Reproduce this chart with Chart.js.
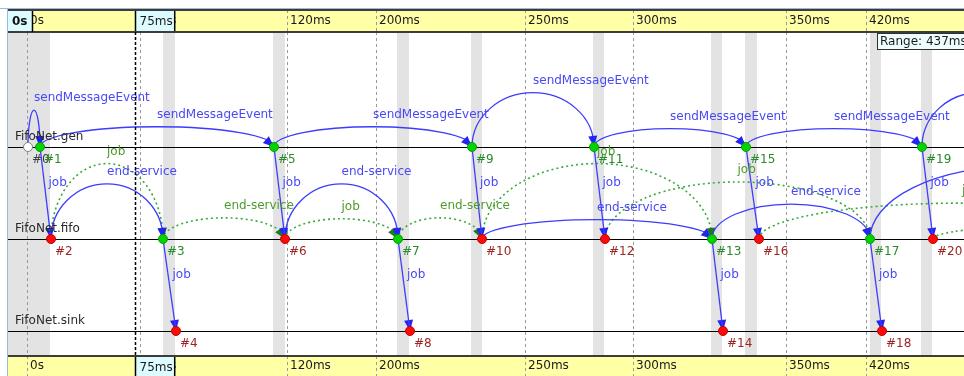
<!DOCTYPE html>
<html>
<head>
<meta charset="utf-8">
<script src="https://cdn.jsdelivr.net/npm/chart.js@4"></script>
<style>
  html, body { margin: 0; padding: 0; background: #fff; }
  canvas { display: block; }
</style>
</head>
<body>
<canvas id="seqChart" width="964" height="376"></canvas>
<script>
// FifoNet sequence chart, non-linear timeline (x = timeline position)

const laneNames = ["FifoNet.gen", "FifoNet.fifo", "FifoNet.sink"];
const laneValue = [2, 1, 0];

// events #0..#20 are on screen, the last two are past the right edge
const eventX    = [20, 32, 43, 155, 168, 266, 277, 390, 402, 464, 474, 586, 597, 704, 715, 738, 751, 862, 874, 914, 925, 1157, 1028];
const eventLane = [0, 0, 1, 1, 2, 0, 1, 1, 2, 0, 1, 0, 1, 1, 2, 0, 1, 1, 2, 0, 1, 1, 0];
const eventKind = ["w", "g", "r", "g", "r", "g", "r", "g", "r", "g", "r", "g", "r", "g", "r", "g", "r", "g", "r", "g", "r", "g", "g"];
const shownEvents = 21;

const tickPos    = [19, 132, 279, 368, 517, 625, 778, 858];
const tickLabels = ["0s", "75ms", "120ms", "200ms", "250ms", "300ms", "350ms", "420ms"];

// regions where consecutive events share the same simulation time
const sameTimeSpans = [[0, 42], [155, 167], [265, 277], [389, 401], [463, 474], [585, 596], [703, 714], [737, 749], [862, 873], [913, 924]];

// self messages: [from, to, name, rise of the arc in lane units]
const sendArcs = [
  [0, 1, "sendMessageEvent", 0.40],
  [1, 5, "sendMessageEvent", 0.22],
  [5, 9, "sendMessageEvent", 0.22],
  [9, 11, "sendMessageEvent", 0.59],
  [11, 15, "sendMessageEvent", 0.20],
  [15, 19, "sendMessageEvent", 0.20],
  [19, 22, "sendMessageEvent", 0.59],
  [2, 3, "end-service", 0.60],
  [6, 7, "end-service", 0.60],
  [10, 13, "end-service", 0.21],
  [13, 17, "end-service", 0.38],
  [17, 21, "end-service", 0.79]
];
// messages between modules: [from, to, name]
const sendLines = [
  [1, 2, "job"], [5, 6, "job"], [9, 10, "job"], [11, 12, "job"], [15, 16, "job"], [19, 20, "job"],
  [3, 4, "job"], [7, 8, "job"], [13, 14, "job"], [17, 18, "job"]
];
// message reuse (dotted): [from, to, name, rise]
const reuseArcs = [
  [2, 3, "job", 0.82],
  [3, 6, "end-service", 0.23],
  [6, 7, "job", 0.22],
  [7, 10, "end-service", 0.23],
  [10, 13, "job", 0.82],
  [12, 17, "job", 0.62],
  [16, 21, "job", 0.39],
  [20, 21, "end-service", 0.14]
];

const cursorPos = 127;
const cursorLabel = "75ms";
const startLabel = "0s";
const rangeText = "Range: 437ms";

const FONT = "12px 'DejaVu Sans'";
const BLUE = "#3c3cff", BLUE_HEAD = "#2424f0", BLUE_TEXT = "#4848f8";
const GREEN = "#3aaa3a", GREEN_HEAD = "#1d7a1d", GREEN_TEXT = "#4c9c2c";

function laneOf(i){ return laneValue[eventLane[i]]; }

function arcGeom(chart, a, b, rise){
  const { x, y } = chart.scales;
  const x1 = x.getPixelForValue(eventX[a]), x2 = x.getPixelForValue(eventX[b]);
  const y0 = y.getPixelForValue(laneOf(a));
  const ry = y0 - y.getPixelForValue(laneOf(a) + rise);
  return { x1, x2, y0, ry, cx: (x1 + x2) / 2, rx: Math.abs(x2 - x1) / 2 };
}

// point on the half ellipse about L px before its end (for the arrow direction)
function arcBackPoint(g, L){
  for (let t = 2 * Math.PI; t > Math.PI; t -= 0.002){
    const px = g.cx + g.rx * Math.cos(t), py = g.y0 + g.ry * Math.sin(t);
    if (Math.hypot(px - g.x2, py - g.y0) >= L) return [px, py];
  }
  return [g.x1, g.y0];
}

function arrowHead(ctx, tx, ty, fx, fy, color){
  const dx = tx - fx, dy = ty - fy, len = Math.hypot(dx, dy) || 1;
  const ux = dx / len, uy = dy / len, L = 11, W = 4.5;
  const bx = tx - ux * L, by = ty - uy * L;
  ctx.beginPath();
  ctx.moveTo(tx, ty);
  ctx.lineTo(bx - uy * W, by + ux * W);
  ctx.lineTo(bx + uy * W, by - ux * W);
  ctx.closePath();
  ctx.fillStyle = color;
  ctx.fill();
}

function drawArc(ctx, g){
  ctx.beginPath();
  ctx.ellipse(g.cx, g.y0, g.rx, g.ry, 0, Math.PI, 2 * Math.PI);
  ctx.stroke();
}

const seqPlugin = {
  id: "seq",
  beforeDraw(chart){
    const { ctx, chartArea: a } = chart;
    const x = chart.scales.x, x2 = chart.scales.x2;
    ctx.save();
    ctx.fillStyle = "#fff";
    ctx.fillRect(0, 0, chart.width, chart.height);
    ctx.fillStyle = "#e3e3e3";
    for (const [s, e] of sameTimeSpans){
      const p1 = x.getPixelForValue(s), p2 = x.getPixelForValue(e);
      ctx.fillRect(p1, a.top, p2 - p1, a.bottom - a.top);
    }
    ctx.fillStyle = "#ffffa6";
    ctx.fillRect(a.left, x.top + 2, a.right - a.left, x.bottom - x.top - 2);
    ctx.fillRect(a.left, x2.top, a.right - a.left, x2.bottom - x2.top);
    ctx.restore();
  },
  beforeDatasetsDraw(chart){
    const { ctx, chartArea: a } = chart;
    const y = chart.scales.y;
    ctx.save();
    ctx.beginPath();
    ctx.rect(a.left, a.top, a.right - a.left, a.bottom - a.top);
    ctx.clip();

    // lanes
    ctx.strokeStyle = "#000";
    ctx.lineWidth = 1;
    for (const v of laneValue){
      const py = Math.round(y.getPixelForValue(v)) + 0.5;
      ctx.beginPath(); ctx.moveTo(a.left, py); ctx.lineTo(a.right, py); ctx.stroke();
    }

    // dotted reuse arcs
    ctx.strokeStyle = GREEN;
    ctx.lineWidth = 1.6;
    ctx.setLineDash([2, 3]);
    for (const [f, t, , rise] of reuseArcs) drawArc(ctx, arcGeom(chart, f, t, rise));
    ctx.setLineDash([]);
    for (const [f, t, , rise] of reuseArcs){
      const g = arcGeom(chart, f, t, rise);
      const [bx, by] = arcBackPoint(g, 11);
      arrowHead(ctx, g.x2, g.y0, bx, by, GREEN_HEAD);
    }

    // self message arcs
    ctx.strokeStyle = BLUE;
    ctx.lineWidth = 1.3;
    for (const [f, t, , rise] of sendArcs){
      const g = arcGeom(chart, f, t, rise);
      drawArc(ctx, g);
      const [bx, by] = arcBackPoint(g, 11);
      arrowHead(ctx, g.x2, g.y0, bx, by, BLUE_HEAD);
    }

    // heads of the straight messages (lines are datasets)
    const xs = chart.scales.x;
    for (const [f, t] of sendLines){
      arrowHead(ctx, xs.getPixelForValue(eventX[t]), y.getPixelForValue(laneOf(t)),
        xs.getPixelForValue(eventX[f]), y.getPixelForValue(laneOf(f)), BLUE_HEAD);
    }
    ctx.restore();
  },
  afterDatasetsDraw(chart){
    const { ctx, chartArea: a } = chart;
    const { x, y } = chart.scales;
    ctx.save();
    ctx.beginPath();
    ctx.rect(a.left, a.top, a.right - a.left, a.bottom - a.top);
    ctx.clip();
    ctx.font = FONT;
    ctx.textAlign = "left";
    ctx.textBaseline = "middle";

    ctx.fillStyle = GREEN_TEXT;
    for (const [f, t, name, rise] of reuseArcs){
      const g = arcGeom(chart, f, t, rise);
      ctx.fillText(name, g.cx, g.y0 - g.ry - 12);
    }
    ctx.fillStyle = BLUE_TEXT;
    for (const [f, t, name, rise] of sendArcs){
      const g = arcGeom(chart, f, t, rise);
      ctx.fillText(name, g.cx, g.y0 - g.ry - 12);
    }
    for (const [f, t, name] of sendLines){
      const mx = (x.getPixelForValue(eventX[f]) + x.getPixelForValue(eventX[t])) / 2;
      const my = (y.getPixelForValue(laneOf(f)) + y.getPixelForValue(laneOf(t))) / 2;
      ctx.fillText(name, mx + 3, my - 10);
    }

    // event numbers
    for (let i = 0; i < shownEvents; i++){
      ctx.fillStyle = eventKind[i] === "g" ? "#2a8a2a" : eventKind[i] === "r" ? "#9c2424" : "#404040";
      ctx.fillText("#" + i, x.getPixelForValue(eventX[i]) + 4, y.getPixelForValue(laneOf(i)) + 13);
    }

    // lane names
    ctx.fillStyle = "#2a2a2a";
    laneNames.forEach((n, k) => {
      ctx.fillText(n, a.left + 7, y.getPixelForValue(laneValue[k]) - 10);
    });
    ctx.restore();
  },
  afterDraw(chart){
    const { ctx, chartArea: a } = chart;
    const x = chart.scales.x, x2 = chart.scales.x2;
    ctx.save();

    // band borders
    ctx.strokeStyle = "#3c3c3c";
    ctx.lineWidth = 2;
    const hline = (py) => { ctx.beginPath(); ctx.moveTo(a.left, py); ctx.lineTo(a.right, py); ctx.stroke(); };
    hline(x.top + 2);
    hline(x.bottom);
    hline(x2.top);

    // cursor
    const cx = Math.round(x.getPixelForValue(cursorPos)) + 0.5;
    ctx.strokeStyle = "#000";
    ctx.lineWidth = 1.5;
    ctx.setLineDash([3, 2]);
    ctx.beginPath(); ctx.moveTo(cx, a.top); ctx.lineTo(cx, a.bottom); ctx.stroke();
    ctx.setLineDash([]);

    ctx.font = FONT;
    ctx.textBaseline = "middle";
    const cw = ctx.measureText(cursorLabel).width + 6;
    for (const [top, bottom] of [[x.top + 3, x.bottom - 1], [x2.top + 1, x2.bottom]]){
      ctx.fillStyle = "#dcfcff";
      ctx.fillRect(cx, top, cw, bottom - top);
      ctx.strokeStyle = "#000";
      ctx.lineWidth = 1.5;
      ctx.beginPath();
      ctx.moveTo(cx, top); ctx.lineTo(cx, bottom);
      ctx.moveTo(cx + cw, top); ctx.lineTo(cx + cw, bottom);
      ctx.stroke();
      ctx.fillStyle = "#1a1a1a";
      ctx.fillText(cursorLabel, cx + 4, (top + bottom) / 2 + 1);
    }

    // start box
    ctx.font = "bold 12px 'DejaVu Sans'";
    const sw = ctx.measureText(startLabel).width + 9;
    ctx.fillStyle = "#dcfcff";
    ctx.fillRect(a.left, x.top + 3, sw, x.bottom - x.top - 4);
    ctx.strokeStyle = "#000";
    ctx.lineWidth = 1.5;
    ctx.beginPath(); ctx.moveTo(a.left + sw, x.top + 3); ctx.lineTo(a.left + sw, x.bottom); ctx.stroke();
    ctx.fillStyle = "#111";
    ctx.fillText(startLabel, a.left + 4, (x.top + x.bottom) / 2 + 2);

    // range tooltip
    ctx.font = FONT;
    const rx = a.right - 87, ry = a.top + 1;
    ctx.fillStyle = "#eefeff";
    ctx.fillRect(rx, ry, 90, 17);
    ctx.strokeStyle = "#303030";
    ctx.lineWidth = 1;
    ctx.strokeRect(rx + 0.5, ry + 0.5, 90, 16);
    ctx.fillStyle = "#1a1a1a";
    ctx.fillText(rangeText, rx + 3, ry + 9);

    // window frame
    ctx.strokeStyle = "#9db8de";
    ctx.lineWidth = 1;
    ctx.beginPath();
    ctx.moveTo(0, 8.5); ctx.lineTo(chart.width, 8.5);
    ctx.moveTo(7.5, 8); ctx.lineTo(7.5, chart.height);
    ctx.stroke();
    ctx.restore();
  }
};

function timeAxis(pos, h, tickLen, pad, onArea){
  return {
    type: "linear",
    position: pos,
    min: 0,
    max: 956,
    afterBuildTicks: (s) => { s.ticks = tickPos.map(v => ({ value: v })); },
    afterFit: (s) => { s.height = h; },
    grid: {
      color: "#9a9a9a", lineWidth: 1, drawOnChartArea: onArea,
      drawTicks: true, tickLength: tickLen, tickColor: "#9a9a9a", tickBorderDash: [3, 3]
    },
    border: { display: false, dash: [3, 3] },
    ticks: {
      autoSkip: false, maxRotation: 0, align: "start", labelOffset: 3, padding: pad,
      color: "#1a1a1a", font: { family: "'DejaVu Sans'", size: 12 },
      callback: (v, i) => tickLabels[i]
    }
  };
}

const lineSets = sendLines.map(([f, t]) => ({
  data: [{ x: eventX[f], y: laneOf(f) }, { x: eventX[t], y: laneOf(t) }],
  showLine: true, borderColor: BLUE, borderWidth: 1.3, pointRadius: 0, order: 1
}));

const eventSet = {
  data: eventX.slice(0, shownEvents).map((v, i) => ({ x: v, y: laneOf(i) })),
  pointRadius: 4.5,
  pointBorderWidth: 1,
  pointBackgroundColor: eventKind.slice(0, shownEvents).map(k => k === "g" ? "#00d400" : k === "r" ? "#ff0a0a" : "#ffffff"),
  pointBorderColor: eventKind.slice(0, shownEvents).map(k => k === "g" ? "#0a9a0a" : k === "r" ? "#c00000" : "#808080"),
  order: 0
};

new Chart(document.getElementById("seqChart"), {
  type: "scatter",
  data: { datasets: [eventSet, ...lineSets] },
  options: {
    responsive: false,
    animation: false,
    devicePixelRatio: 1,
    events: [],
    layout: { autoPadding: false, padding: { left: 8, top: 8, right: 0, bottom: 0 } },
    plugins: { legend: { display: false }, tooltip: { enabled: false } },
    scales: {
      x: timeAxis("top", 24, 22, -18, true),
      x2: timeAxis("bottom", 20, 20, -17, false),
      y: { display: false, min: -0.272, max: 3.25 }
    }
  },
  plugins: [seqPlugin]
});
</script>
</body>
</html>
